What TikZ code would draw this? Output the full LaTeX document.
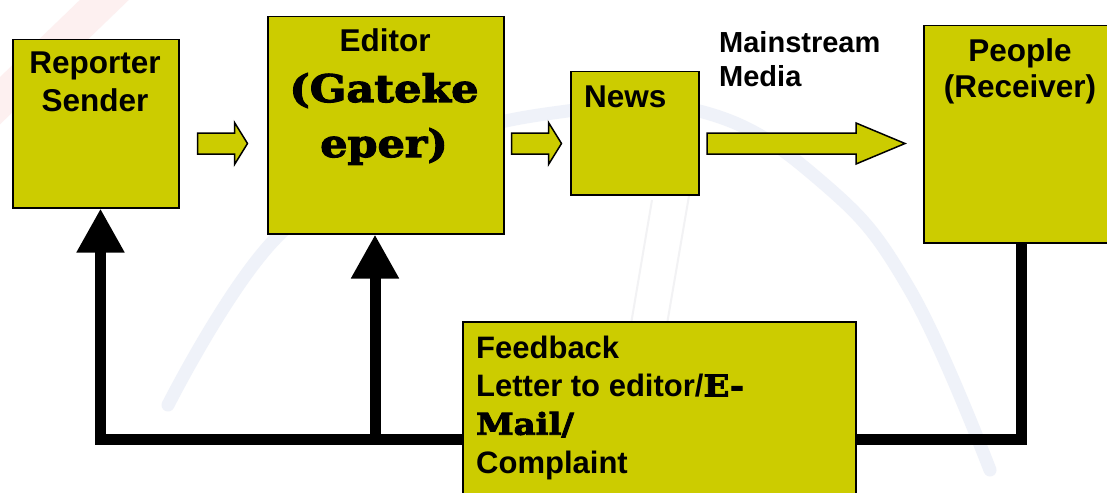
\documentclass[tikz,border=0pt]{standalone}
\usepackage{fontspec}
\setmainfont{Liberation Sans}
\newfontfamily\heavyserif[FakeStretch=1.13, BoldFeatures={FakeBold=3}]{DejaVu Serif}
\usetikzlibrary{arrows.meta,calc}

\definecolor{boxfill}{RGB}{204,204,0}
\definecolor{wmblue}{RGB}{239,242,249}
\definecolor{wmgray}{RGB}{242,242,244}
\definecolor{wmpink}{RGB}{253,240,240}

\tikzset{
  box/.style={draw=black, line width=1.5pt, fill=boxfill, inner sep=0pt,
              anchor=north west},
  label/.style={inner sep=0pt, font=\fontsize{31.5}{37}\selectfont\bfseries},
  serif/.style={inner sep=0pt, font=\fontsize{38}{55}\heavyserif\bfseries},
  blk/.style={draw=black, line width=1.5pt, fill=boxfill, line join=miter},
  fb/.style={draw=black, line width=11pt, line join=miter},
  fbarrow/.style={fb, -{Triangle[width=45pt,length=44pt]}}
}

\begin{document}
\begin{tikzpicture}[x=1pt,y=-1pt]
\useasboundingbox (0,0) rectangle (1107,492);
\clip (0,0) rectangle (1107,492);
\fill[white] (0,0) rectangle (1107,492);

% faint background emblem
\draw[wmpink, line width=34pt] (-20,120) -- (125,-20);
\draw[wmblue, line width=13pt, line cap=round]
  plot[smooth, tension=0.7] coordinates
  {(168,405) (277,237) (420,150) (560,112) (703,112) (823,183) (910,290) (990,470)};
\draw[wmgray, line width=2pt] (690,190) -- (666,330);
\draw[wmgray, line width=2pt] (652,200) -- (630,330);

% boxes
\node[box, minimum width=166pt, minimum height=168pt] (reporter) at (12,39) {};
\node[box, minimum width=236pt, minimum height=217pt] (editor) at (267,16) {};
\node[box, minimum width=128pt, minimum height=123pt] (news) at (570,71) {};
\node[box, minimum width=200pt, minimum height=217pt] (people) at (923,25) {};
\node[box, minimum width=393pt, minimum height=200pt] (feedback) at (462,321) {};

% box texts (multi-line nodes are placed by the baseline of their last line)
\node[label, anchor=base, align=center] (reporterT) at (95,111) {Reporter\\Sender};
\node[label, anchor=base] (editorT) at (385,52) {Editor};
\node[serif, anchor=base, align=center] (gateT) at (384,157) {(Gateke\\eper)};
\node[label, anchor=base west] (newsT) at (584,108) {News};
\node[label, anchor=base, align=center, font=\fontsize{31.5}{36}\selectfont\bfseries]
  (peopleT) at (1020,98) {People\\(Receiver)};
\node[label, anchor=base west, align=left, font=\fontsize{29}{34}\selectfont\bfseries]
  (mediaT) at (719,87) {Mainstream\\Media};
\node[label, anchor=base west, align=left, font=\fontsize{31}{38.3}\selectfont\bfseries]
  (feedbackT) at (476,473)
  {Feedback\\Letter to editor/{\fontsize{30}{38.3}\heavyserif\bfseries E-}\\
   {\fontsize{30}{38.3}\heavyserif\bfseries Mail/}\\Complaint};

% block arrows along the forward chain
\coordinate (m1) at (222.5,143.5);
\coordinate (m2) at (536.5,143.5);
\coordinate (m3) at (806,143.5);
\draw[blk] (m1) ++(-25,-10.5) -- ++(37,0) -- ++(0,-10.5) -- ++(13,21)
  -- ++(-13,21) -- ++(0,-10.5) -- ++(-37,0) -- cycle;
\draw[blk] (m2) ++(-25,-10.5) -- ++(37,0) -- ++(0,-10.5) -- ++(13,21)
  -- ++(-13,21) -- ++(0,-10.5) -- ++(-37,0) -- cycle;
\draw[blk] (m3) ++(-99,-10.5) -- ++(149,0) -- ++(0,-10) -- ++(49,20.5)
  -- ++(-49,20.5) -- ++(0,-10) -- ++(-149,0) -- cycle;

% feedback loop
\coordinate (jl) at (100.5,439.5);
\coordinate (je) at (375,439.5);
\coordinate (jr) at (1021.5,439.5);
\draw[fbarrow] (feedback.west |- jl) -- (jl) -- (jl |- reporter.south);
\draw[fbarrow] (je) -- (je |- editor.south);
\draw[fb] (feedback.east |- jr) -- (jr) -- (jr |- people.south);
\end{tikzpicture}
\end{document}
